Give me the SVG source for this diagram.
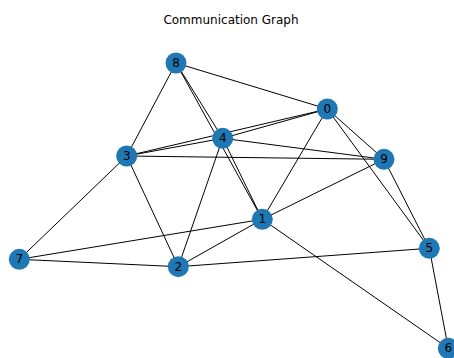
<svg xmlns="http://www.w3.org/2000/svg" width="454" height="358" viewBox="0 0 454 358">
<style>
.e{stroke:#000;stroke-width:1;fill:none}
.n circle{fill:#1f77b4}
.n text{font-family:"DejaVu Sans",sans-serif;font-size:12px;fill:#000;text-anchor:middle;dominant-baseline:central}
.t{font-family:"DejaVu Sans",sans-serif;font-size:12px;fill:#000;text-anchor:middle}
</style>
<rect width="454" height="358" fill="#fff"/>
<text class="t" x="231" y="24">Communication Graph</text>
<g id="edges" class="e">
<line x1="176" y1="63" x2="327.3" y2="109"/>
<line x1="176" y1="63" x2="126.7" y2="156"/>
<line x1="176" y1="63" x2="222.7" y2="138.3"/>
<line x1="176" y1="63" x2="262.3" y2="219.3"/>
<line x1="327.3" y1="109" x2="222.7" y2="138.3"/>
<line x1="327.3" y1="109" x2="126.7" y2="156"/>
<line x1="327.3" y1="109" x2="384" y2="159.3"/>
<line x1="327.3" y1="109" x2="429.3" y2="248.3"/>
<line x1="327.3" y1="109" x2="262.3" y2="219.3"/>
<line x1="222.7" y1="138.3" x2="126.7" y2="156"/>
<line x1="222.7" y1="138.3" x2="384" y2="159.3"/>
<line x1="222.7" y1="138.3" x2="262.3" y2="219.3"/>
<line x1="222.7" y1="138.3" x2="178.3" y2="266.7"/>
<line x1="126.7" y1="156" x2="384" y2="159.3"/>
<line x1="126.7" y1="156" x2="19.3" y2="259.3"/>
<line x1="126.7" y1="156" x2="178.3" y2="266.7"/>
<line x1="384" y1="159.3" x2="262.3" y2="219.3"/>
<line x1="384" y1="159.3" x2="429.3" y2="248.3"/>
<line x1="262.3" y1="219.3" x2="19.3" y2="259.3"/>
<line x1="262.3" y1="219.3" x2="178.3" y2="266.7"/>
<line x1="262.3" y1="219.3" x2="448.3" y2="348.3"/>
<line x1="19.3" y1="259.3" x2="178.3" y2="266.7"/>
<line x1="178.3" y1="266.7" x2="429.3" y2="248.3"/>
<line x1="429.3" y1="248.3" x2="448.3" y2="348.3"/>
</g>
<g id="node0" class="n"><circle cx="327.3" cy="109" r="10.5"/><text x="327.3" y="109">0</text></g>
<g id="node1" class="n"><circle cx="262.3" cy="219.3" r="10.5"/><text x="262.3" y="219.3">1</text></g>
<g id="node2" class="n"><circle cx="178.3" cy="266.7" r="10.5"/><text x="178.3" y="266.7">2</text></g>
<g id="node3" class="n"><circle cx="126.7" cy="156" r="10.5"/><text x="126.7" y="156">3</text></g>
<g id="node4" class="n"><circle cx="222.7" cy="138.3" r="10.5"/><text x="222.7" y="138.3">4</text></g>
<g id="node5" class="n"><circle cx="429.3" cy="248.3" r="10.5"/><text x="429.3" y="248.3">5</text></g>
<g id="node6" class="n"><circle cx="448.3" cy="348.3" r="10.5"/><text x="448.3" y="348.3">6</text></g>
<g id="node7" class="n"><circle cx="19.3" cy="259.3" r="10.5"/><text x="19.3" y="259.3">7</text></g>
<g id="node8" class="n"><circle cx="176" cy="63" r="10.5"/><text x="176" y="63">8</text></g>
<g id="node9" class="n"><circle cx="384" cy="159.3" r="10.5"/><text x="384" y="159.3">9</text></g>
</svg>
